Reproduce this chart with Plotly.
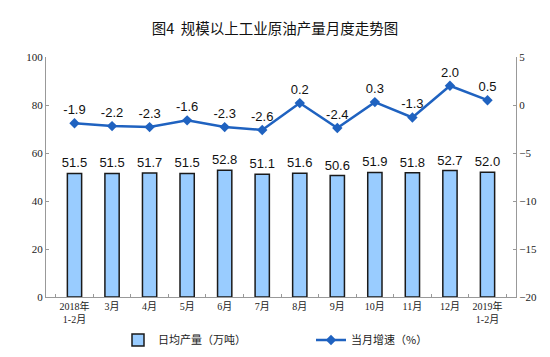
import plotly.graph_objects as go

categories = ["2018年<br>1-2月", "3月", "4月", "5月", "6月", "7月", "8月", "9月", "10月", "11月", "12月", "2019年<br>1-2月"]
daily_output = [51.5, 51.5, 51.7, 51.5, 52.8, 51.1, 51.6, 50.6, 51.9, 51.8, 52.7, 52.0]
growth = [-1.9, -2.2, -2.3, -1.6, -2.3, -2.6, 0.2, -2.4, 0.3, -1.3, 2.0, 0.5]

cjk = "Noto Sans CJK SC"
serif = "Liberation Serif, Noto Sans CJK SC"
sans = "Liberation Sans, Noto Sans CJK SC"

fig = go.Figure()
fig.add_trace(go.Bar(
    x=categories, y=daily_output, name="日均产量（万吨）",
    marker=dict(color="#99CCFF", line=dict(color="#1a1a1a", width=1.5)),
    width=0.38,
    text=[f"{v:.1f}" for v in daily_output], textposition="outside",
    constraintext="none",
    textfont=dict(family=sans, size=13, color="#111"),
    cliponaxis=False,
))
fig.add_trace(go.Scatter(
    x=categories, y=growth, name="当月增速（%）", yaxis="y2",
    mode="lines+markers+text",
    line=dict(color="#1F62C0", width=2.5),
    marker=dict(symbol="diamond", size=8, color="#1F62C0"),
    text=[f"{v:.1f}" for v in growth], textposition="top center",
    textfont=dict(family=sans, size=13, color="#111"),
    cliponaxis=False,
))

fig.update_layout(
    width=550, height=357,
    margin=dict(l=46, r=34, t=57, b=60, autoexpand=False),
    paper_bgcolor="white", plot_bgcolor="white",
    title=dict(text="图4  规模以上工业原油产量月度走势图", x=0.5, xanchor="center",
               y=1 - 29/357, yanchor="middle",
               font=dict(family=cjk, size=14.5, color="#111")),
    showlegend=True,
    legend=dict(orientation="h", xref="container", yref="container",
                x=118/550, xanchor="left", y=1 - 340/357, yanchor="middle",
                font=dict(family=cjk, size=11, color="#222"), entrywidth=148,
                traceorder="normal"),
    xaxis=dict(type="category", showline=True, linecolor="#999", linewidth=1,
               ticks="inside", ticklen=3, tickcolor="#999", tickson="boundaries",
               tickangle=0,
               tickfont=dict(family=serif, size=10, color="#222"), showgrid=False),
    yaxis=dict(range=[0, 100], dtick=20, showline=True, linecolor="#999", linewidth=1,
               ticks="inside", ticklen=3, tickcolor="#999", showgrid=False, zeroline=False,
               tickfont=dict(family=serif, size=11, color="#222")),
    yaxis2=dict(range=[-20, 5], dtick=5, overlaying="y", side="right", showline=True,
                linecolor="#999", linewidth=1, ticks="inside", ticklen=3, tickcolor="#999",
                showgrid=False, zeroline=False,
                tickfont=dict(family=serif, size=11, color="#222")),
)

fig.write_html("out.html", config={"displayModeBar": False},
               post_script="document.body.style.margin='0';")
